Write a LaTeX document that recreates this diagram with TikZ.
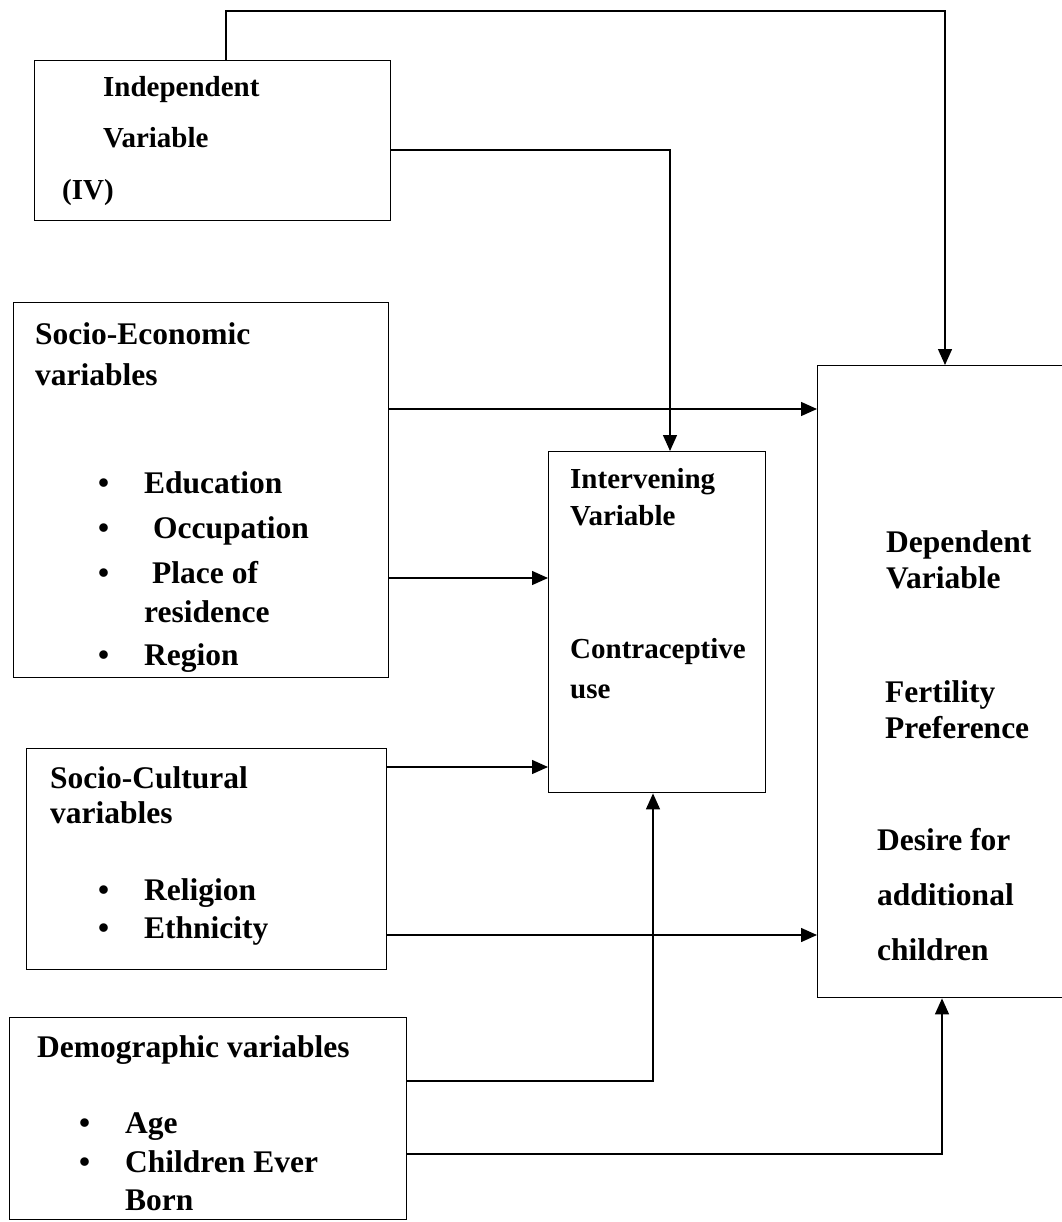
\documentclass[tikz,border=0pt]{standalone}
\usepackage{fontspec}
\setmainfont{Liberation Serif}
\usetikzlibrary{arrows.meta}

\begin{document}
\begin{tikzpicture}[x=1pt,y=-1pt,
	box/.style={draw,line width=1.4pt,inner sep=0pt,anchor=north west},
	txt/.style={anchor=base west,inner sep=0pt,font=\fontsize{29}{34}\selectfont\bfseries},
	bigtxt/.style={txt,font=\fontsize{31.5}{36}\selectfont\bfseries},
	arr/.style={line width=1.4pt,-{Triangle[length=16pt,width=14pt]}}]

	\useasboundingbox (0,0) rectangle (1061,1222);

	%% Boxes %%
	\node [box,minimum width=356,minimum height=160] (iv) at (34,60) {};
	\node [box,minimum width=375,minimum height=375] (se) at (13,302) {};
	\node [box,minimum width=360,minimum height=221] (sc) at (26,748) {};
	\node [box,minimum width=397,minimum height=202] (dm) at (9,1017) {};
	\node [box,minimum width=217,minimum height=341] (intv) at (548,451) {};
	\node [box,minimum width=260,minimum height=632] (dv) at (817,365) {};

	%% Independent Variable %%
	\node [txt] (ivA) at (103,97) {Independent};
	\node [txt] (ivB) at (103,148) {Variable};
	\node [txt] (ivC) at (62,200) {(IV)};
	%% Socio-Economic %%
	\node [bigtxt] (seA) at (35,344) {Socio-Economic};
	\node [bigtxt] (seB) at (35,385) {variables};
	\node [bigtxt] (seC) at (98,493) {\makebox[46pt][l]{\textbullet}Education};
	\node [bigtxt] (seD) at (98,538) {\makebox[55pt][l]{\textbullet}Occupation};
	\node [bigtxt] (seE) at (98,583) {\makebox[54pt][l]{\textbullet}Place of};
	\node [bigtxt] (seF) at (144,622) {residence};
	\node [bigtxt] (seG) at (98,665) {\makebox[46pt][l]{\textbullet}Region};
	%% Socio-Cultural %%
	\node [bigtxt] (scA) at (50,788) {Socio-Cultural};
	\node [bigtxt] (scB) at (50,823) {variables};
	\node [bigtxt] (scC) at (98,900) {\makebox[46pt][l]{\textbullet}Religion};
	\node [bigtxt] (scD) at (98,938) {\makebox[46pt][l]{\textbullet}Ethnicity};
	%% Demographic %%
	\node [bigtxt] (dmA) at (37,1057) {Demographic variables};
	\node [bigtxt] (dmB) at (79,1133) {\makebox[46pt][l]{\textbullet}Age};
	\node [bigtxt] (dmC) at (79,1172) {\makebox[46pt][l]{\textbullet}Children Ever};
	\node [bigtxt] (dmD) at (125,1210) {Born};
	%% Intervening Variable %%
	\node [txt] (inA) at (570,488) {Intervening};
	\node [txt] (inB) at (570,525) {Variable};
	\node [txt] (inC) at (570,658) {Contraceptive};
	\node [txt] (inD) at (570,698) {use};
	%% Dependent Variable %%
	\node [bigtxt] (dvA) at (886,552) {Dependent};
	\node [bigtxt] (dvB) at (886,588) {Variable};
	\node [bigtxt] (dvC) at (885,702) {Fertility};
	\node [bigtxt] (dvD) at (885,738) {Preference};
	\node [bigtxt] (dvE) at (877,850) {Desire for};
	\node [bigtxt] (dvF) at (877,905) {additional};
	\node [bigtxt] (dvG) at (877,960) {children};

	%% Arrows %%
	\draw [arr] (iv.north -| 226,0) |- (945,11) -- (dv.north -| 945,0);
	\draw [arr] (iv.east |- 0,150) -| (intv.north -| 670,0);
	\draw [arr] (se.east |- 0,409) -- (dv.west |- 0,409);
	\draw [arr] (se.east |- 0,578) -- (intv.west |- 0,578);
	\draw [arr] (sc.east |- 0,767) -- (intv.west |- 0,767);
	\draw [arr] (sc.east |- 0,935) -- (dv.west |- 0,935);
	\draw [arr] (dm.east |- 0,1081) -| (intv.south -| 653,0);
	\draw [arr] (dm.east |- 0,1154) -| (dv.south -| 942,0);

\end{tikzpicture}
\end{document}
